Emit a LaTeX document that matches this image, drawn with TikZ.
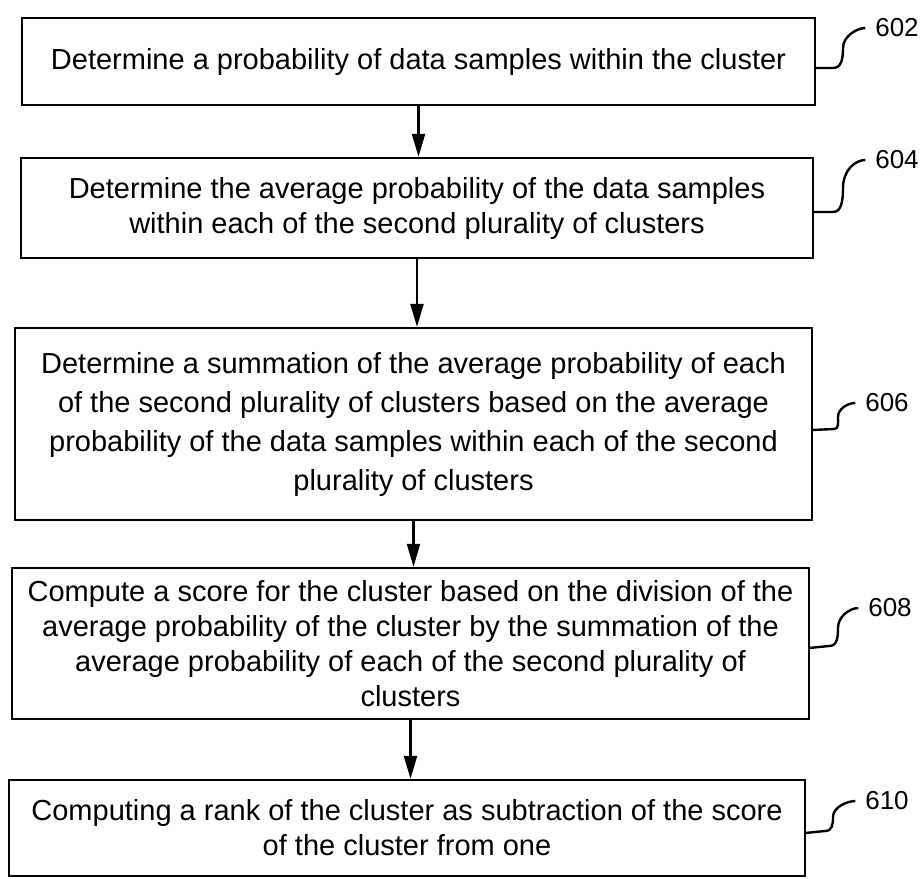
\documentclass[tikz,border=0pt]{standalone}
\usepackage{fontspec}
\setmainfont{Liberation Sans}
\usetikzlibrary{arrows.meta}
\begin{document}
\begin{tikzpicture}[x=1pt,y=-1pt,
    stepbox/.style={draw,line width=2.4pt,align=center,inner sep=0pt,
      font=\fontsize{29}{35}\selectfont},
    reflabel/.style={inner sep=0pt,outer sep=10pt,font=\fontsize{26}{30}\selectfont},
    curl/.style={line width=2.4pt},
    flow/.style={line width=2.4pt,-{Triangle[length=23pt,width=13pt]}}]
  \useasboundingbox (0,0) rectangle (922,879);
  % steps
  \node[stepbox,minimum width=793pt,minimum height=87pt] (b602) at (418.5,61.5)
    {Determine a probability of data samples within the cluster};
  \node[stepbox,minimum width=792pt,minimum height=100pt] (b604) at (417,208)
    {Determine the average probability of the data samples\\
     within each of the second plurality of clusters};
  \node[stepbox,minimum width=797pt,minimum height=192pt,
        font=\fontsize{29}{39}\selectfont] (b606) at (413.5,424)
    {Determine a summation of the average probability of each\\
     of the second plurality of clusters based on the average\\
     probability of the data samples within each of the second\\
     plurality of clusters};
  \node[stepbox,minimum width=797pt,minimum height=151pt] (b608) at (410.5,643.5)
    {Compute a score for the cluster based on the division of the\\
     average probability of the cluster by the summation of the\\
     average probability of each of the second plurality of\\
     clusters};
  \node[stepbox,minimum width=796pt,minimum height=96pt] (b610) at (407,828)
    {Computing a rank of the cluster as subtraction of the score\\
     of the cluster from one};
  % reference numerals
  \node[reflabel] (l602) at (897,28) {602};
  \node[reflabel] (l604) at (897,160) {604};
  \node[reflabel] (l606) at (887,403) {606};
  \node[reflabel] (l608) at (890,608) {608};
  \node[reflabel] (l610) at (887,801) {610};
  % hooks
  \coordinate (h602) at (815,68);
  \coordinate (h604) at (813,212);
  \coordinate (h606) at (812,430);
  \coordinate (h608) at (809,648);
  \coordinate (h610) at (805,833);
  \draw[curl] (h602) -- ++(18,0) .. controls +(8,0) and +(0,12) .. ++(10,-20)
    .. controls +(0,-12) and +(-8,0) .. (l602.west);
  \draw[curl] (h604) -- ++(20,0) .. controls +(8,0) and +(0,14) .. ++(10,-24)
    .. controls +(0,-18) and +(-10,0) .. (l604.west);
  \draw[curl] (h606) -- ++(22,-1) .. controls +(5,0) and +(0,6) .. ++(4,-12)
    .. controls +(0,-8) and +(-8,0) .. (l606.west);
  \draw[curl] (h608) -- ++(20,-2) .. controls +(8,0) and +(0,10) .. ++(9,-18)
    .. controls +(0,-12) and +(-8,0) .. (l608.west);
  \draw[curl] (h610) -- ++(20,-2) .. controls +(7,0) and +(0,8) .. ++(8,-14)
    .. controls +(0,-10) and +(-8,0) .. (l610.west);
  % flow
  \draw[flow] (b602.south) -- (b602.south |- b604.north);
  \draw[flow] (b604.south) -- (b604.south |- b606.north);
  \draw[flow] (b606.south) -- (b606.south |- b608.north);
  \draw[flow] (b608.south) -- (b608.south |- b610.north);
\end{tikzpicture}
\end{document}
